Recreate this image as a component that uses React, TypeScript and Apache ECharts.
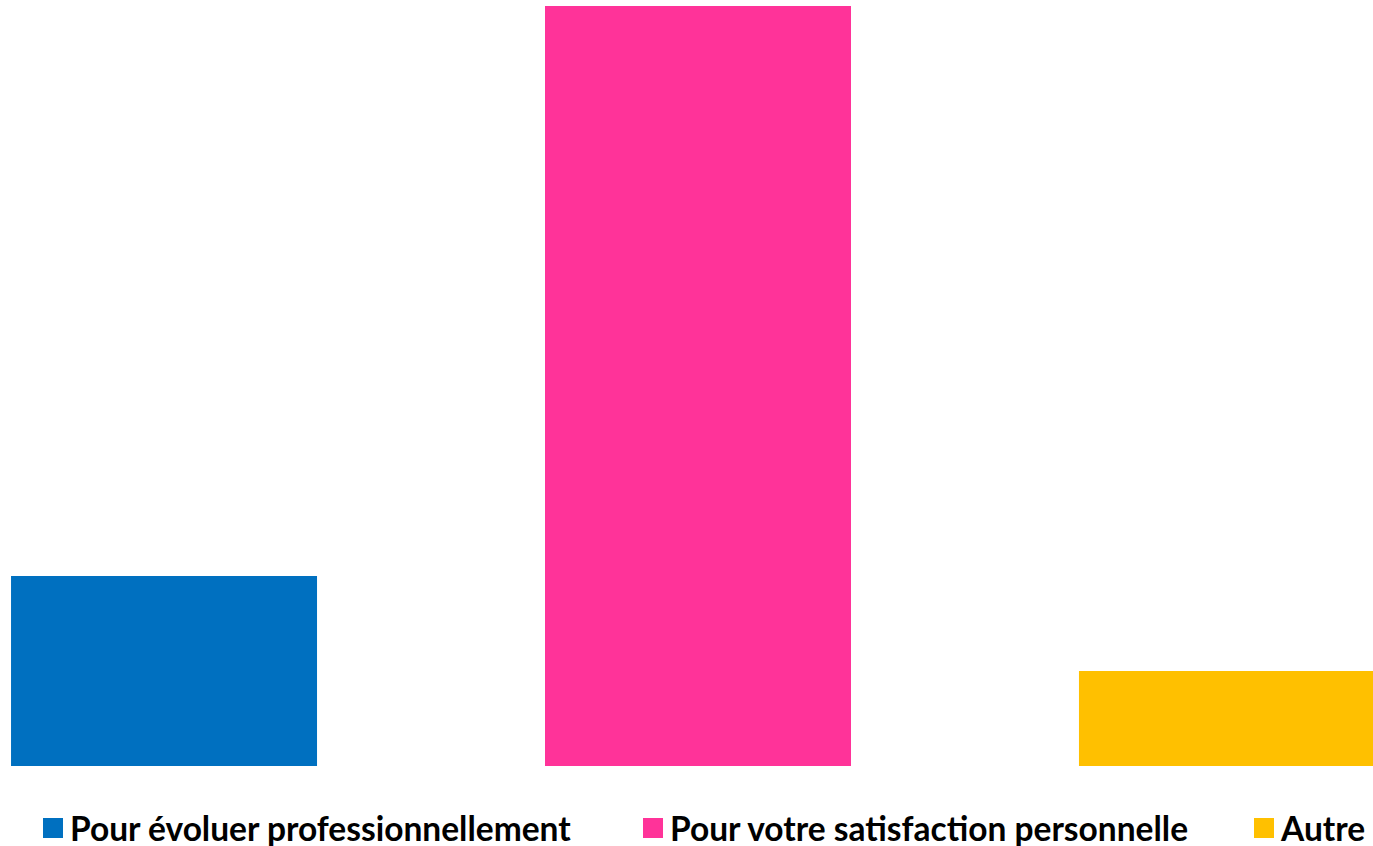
import React, { useEffect, useRef } from "react";
import * as echarts from "echarts";

const categories = ["Raison"];
const seriesNames = [
  "Pour évoluer professionnellement",
  "Pour votre satisfaction personnelle",
  "Autre",
];
const seriesValues = [2, 8, 1];
const seriesColors = ["#0070C0", "#FF3399", "#FFC000"];
const legendLefts = [43, 643, 1254];

export default function App() {
  const ref = useRef<HTMLDivElement>(null);
  useEffect(() => {
    if (!ref.current) return;
    const chart = echarts.init(ref.current, undefined, { renderer: "svg" });
    chart.setOption({
      animation: false,
      backgroundColor: "#ffffff",
      grid: { left: 23, right: 0, top: 6, bottom: 80 },
      xAxis: {
        type: "category",
        data: categories,
        show: false,
      },
      yAxis: {
        type: "value",
        min: 0,
        max: 8,
        show: false,
        splitLine: { show: false },
      },
      legend: seriesNames.map((n, i) => ({
        data: [n],
        left: legendLefts[i],
        top: 808,
        padding: 0,
        itemWidth: 20,
        itemHeight: 20,
        icon: "rect",
        selectedMode: false,
        textStyle: {
          fontFamily: "Lato",
          fontWeight: "bold",
          fontSize: 33.5,
          color: "#000000",
          lineHeight: 40,
          padding: [0, 0, 0, 2],
        },
      })),
      series: seriesNames.map((n, i) => ({
        type: "bar",
        name: n,
        data: [seriesValues[i]],
        barWidth: 306,
        barGap: "74.5%",
        clip: false,
        itemStyle: { color: seriesColors[i] },
      })),
    });
    return () => chart.dispose();
  }, []);
  return (
    <div
      ref={ref}
      style={{ position: "fixed", left: 0, top: 0, width: 1373, height: 846 }}
    />
  );
}
